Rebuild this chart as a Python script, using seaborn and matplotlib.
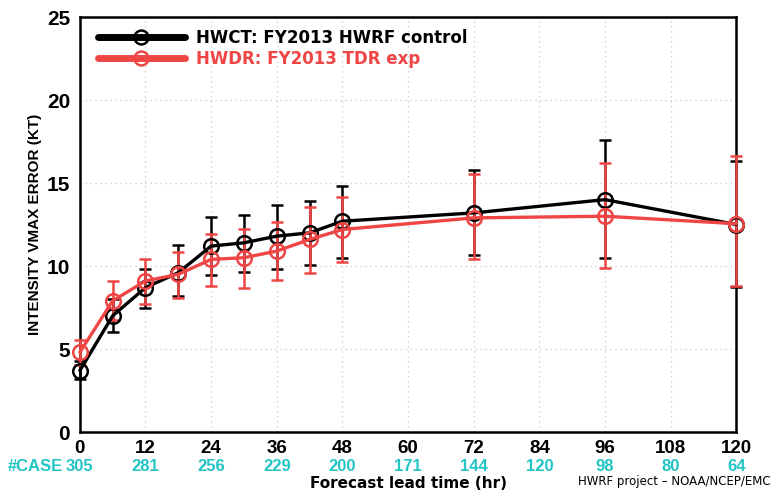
import numpy as np
import pandas as pd
import seaborn as sns
import matplotlib.pyplot as plt
import matplotlib.transforms as mtransforms
from matplotlib.lines import Line2D

# lead times (hr) and intensity errors (kt)
lead = [0, 6, 12, 18, 24, 30, 36, 42, 48, 72, 96, 120]
hwct = [3.7, 7.0, 8.7, 9.6, 11.2, 11.4, 11.8, 12.0, 12.7, 13.2, 14.0, 12.5]
hwct_lo = [3.2, 6.0, 7.5, 8.2, 9.45, 9.65, 9.8, 10.05, 10.5, 10.65, 10.5, 8.75]
hwct_hi = [4.3, 8.0, 9.85, 11.25, 12.95, 13.1, 13.7, 13.9, 14.8, 15.8, 17.6, 16.3]
hwdr = [4.8, 7.9, 9.1, 9.5, 10.4, 10.5, 10.9, 11.6, 12.2, 12.9, 13.0, 12.55]
hwdr_lo = [4.05, 6.75, 7.7, 8.1, 8.8, 8.7, 9.15, 9.6, 10.25, 10.45, 9.9, 8.8]
hwdr_hi = [5.55, 9.1, 10.45, 10.85, 11.95, 12.25, 12.65, 13.55, 14.15, 15.55, 16.2, 16.6]

case_hours = [0, 12, 24, 36, 48, 60, 72, 84, 96, 108, 120]
cases = [305, 281, 256, 229, 200, 171, 144, 120, 98, 80, 64]

labels = ["HWCT: FY2013 HWRF control", "HWDR: FY2013 TDR exp"]
colors = ["black", "#f04545"]
cyan = "#22c4c4"

sns.set_style("white")
plt.rcParams["font.family"] = ["Liberation Sans", "DejaVu Sans"]
plt.rcParams["text.color"] = "black"
plt.rcParams["xtick.color"] = "black"
plt.rcParams["ytick.color"] = "black"
plt.rcParams["axes.labelcolor"] = "black"

df = pd.DataFrame({
    "lead": lead * 2,
    "err": hwct + hwdr,
    "lo": hwct_lo + hwdr_lo,
    "hi": hwct_hi + hwdr_hi,
    "model": [labels[0]] * len(lead) + [labels[1]] * len(lead),
})

fig = plt.figure(figsize=(7.75, 4.94), dpi=100)
ax = fig.add_axes([0.103, 0.1255, 0.847, 0.84])

for lab, col in zip(labels, colors):
    d = df[df["model"] == lab]
    eb = ax.errorbar(d["lead"], d["err"], yerr=[d["err"] - d["lo"], d["hi"] - d["err"]],
                     fmt="none", ecolor=col, elinewidth=1.8, capsize=4, capthick=1.8, zorder=3)
    for art in eb.lines[1] + eb.lines[2]:
        art.set_clip_on(False)
    sns.lineplot(data=d, x="lead", y="err", color=col, lw=2.4, marker="o",
                 markersize=10.5, markerfacecolor="none", markeredgecolor=col,
                 markeredgewidth=1.8, ax=ax, zorder=4, clip_on=False)

ax.set_xlim(0, 120)
ax.set_ylim(0, 25)
ax.set_xticks(range(0, 121, 12))
ax.set_yticks(range(0, 26, 5))
ax.grid(True, color="#c8c8c8", linestyle=(0, (1, 3)), linewidth=0.9)
for s in ax.spines.values():
    s.set_linewidth(1.8)
    s.set_color("black")
ax.tick_params(axis="both", direction="out", length=5, width=1.8, color="black",
               labelcolor="black")
ax.tick_params(axis="y", pad=2)
ax.tick_params(axis="x", pad=1)
for t in ax.get_yticklabels():
    t.set_fontsize(15)
    t.set_fontweight("bold")
for t in ax.get_xticklabels():
    t.set_fontsize(13.5)
    t.set_fontweight("bold")

ax.set_xlabel("")
ax.set_ylabel("INTENSITY VMAX ERROR (KT)", fontsize=11, fontweight="bold")
ax.yaxis.set_label_coords(-0.058, 0.5)

trans = mtransforms.blended_transform_factory(ax.transData, ax.transAxes)
for h, n in zip(case_hours, cases):
    ax.text(h, -0.083, str(n), transform=trans, ha="center", va="center",
            color=cyan, fontsize=12, fontweight="bold")
ax.text(-3.0, -0.083, "#CASE", transform=trans, ha="right", va="center",
        color=cyan, fontsize=12, fontweight="bold")
ax.text(0.5, -0.125, "Forecast lead time (hr)", transform=ax.transAxes,
        ha="center", va="center", fontsize=11, fontweight="bold",
        family=["DejaVu Sans"])
fig.text(0.995, 0.012, "HWRF project \u2013 NOAA/NCEP/EMC", ha="right", va="bottom",
         fontsize=8.5, family=["DejaVu Sans"])

handles = [Line2D([], [], color=c, lw=5, marker="o", markersize=10,
                  markerfacecolor="none", markeredgecolor=c, markeredgewidth=1.8)
           for c in colors]
leg = ax.legend(handles, labels, loc="upper left", bbox_to_anchor=(0.01, 1.0),
                frameon=False, handlelength=5.2, handletextpad=0.7,
                labelspacing=0.2, borderaxespad=0.3,
                prop={"family": "DejaVu Sans", "weight": "bold", "size": 12})
for txt, c in zip(leg.get_texts(), colors):
    txt.set_color(c)

fig.savefig("out.png", dpi=100)
